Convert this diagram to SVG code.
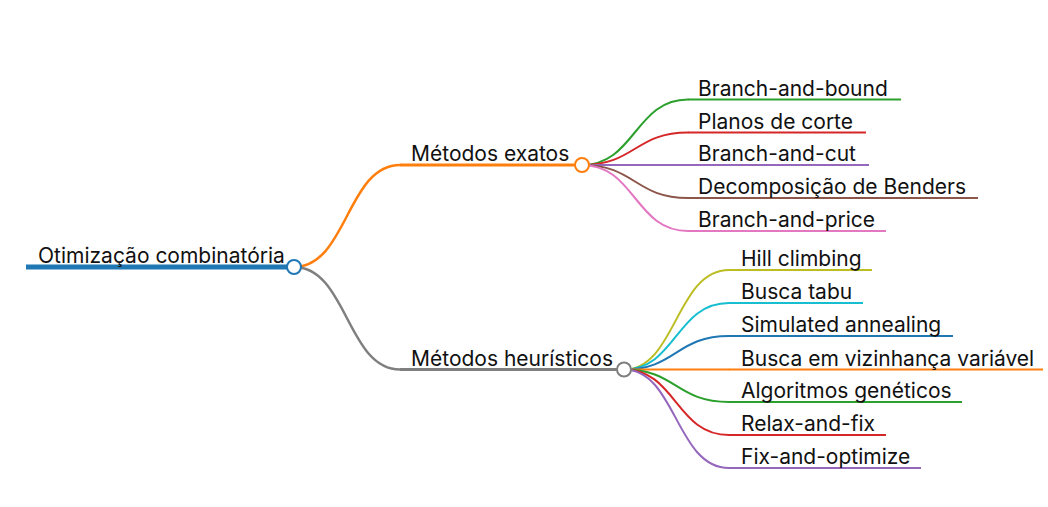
<svg xmlns="http://www.w3.org/2000/svg" width="1048" height="507" viewBox="0 0 1048 507">
<style>
text{font-family:Inter,"Noto Sans","Liberation Sans",sans-serif;font-size:21px;fill:#111}
.l{fill:none;stroke-linecap:round}
.c{fill:#fff;stroke-width:2}
</style>
<rect width="1048" height="507" fill="#fff"/>
<g id="connectors" class="links">
<path class="l" d="M294,267 C347,267 347,165 400,165" stroke="#ff7f0e" stroke-width="2.5"/>
<path class="l" d="M294,267 C347,267 347,369.5 400,369.5" stroke="#7f7f7f" stroke-width="2.5"/>
<path class="l" d="M582,165 C635,165 635,99.5 688,99.5" stroke="#2ca02c" stroke-width="2"/>
<path class="l" d="M582,165 C635,165 635,132.5 688,132.5" stroke="#d62728" stroke-width="2"/>
<path class="l" d="M582,165 C635,165 635,165 688,165" stroke="#9467bd" stroke-width="2"/>
<path class="l" d="M582,165 C635,165 635,198 688,198" stroke="#8c564b" stroke-width="2"/>
<path class="l" d="M582,165 C635,165 635,231 688,231" stroke="#e377c2" stroke-width="2"/>
<path class="l" d="M624,369.5 C676,369.5 676,270 729,270" stroke="#bcbd22" stroke-width="2"/>
<path class="l" d="M624,369.5 C676,369.5 676,303 729,303" stroke="#17becf" stroke-width="2"/>
<path class="l" d="M624,369.5 C676,369.5 676,336 729,336" stroke="#1f77b4" stroke-width="2"/>
<path class="l" d="M624,369.5 C676,369.5 676,369.5 729,369.5" stroke="#ff7f0e" stroke-width="2"/>
<path class="l" d="M624,369.5 C676,369.5 676,402 729,402" stroke="#2ca02c" stroke-width="2"/>
<path class="l" d="M624,369.5 C676,369.5 676,435 729,435" stroke="#d62728" stroke-width="2"/>
<path class="l" d="M624,369.5 C676,369.5 676,468 729,468" stroke="#9467bd" stroke-width="2"/>
</g>
<g id="root">
<line x1="26" y1="267" x2="294" y2="267" stroke="#1f77b4" stroke-width="5"/>
<circle class="c" cx="294" cy="267" r="7" stroke="#1f77b4"/>
<text x="38" y="263">Otimização combinatória</text>
</g>
<g id="exatos">
<line x1="400" y1="165" x2="582" y2="165" stroke="#ff7f0e" stroke-width="3"/>
<circle class="c" cx="582" cy="165" r="7" stroke="#ff7f0e"/>
<text x="411" y="161">Métodos exatos</text>
</g>
<g id="heuristicos">
<line x1="400" y1="369.5" x2="624" y2="369.5" stroke="#7f7f7f" stroke-width="3"/>
<circle class="c" cx="624" cy="369.5" r="7" stroke="#7f7f7f"/>
<text x="411" y="365.5">Métodos heurísticos</text>
</g>
<g id="bb"><line x1="688" y1="99.5" x2="901" y2="99.5" stroke="#2ca02c" stroke-width="2"/><text x="698" y="95.5">Branch-and-bound</text></g>
<g id="pc"><line x1="688" y1="132.5" x2="866" y2="132.5" stroke="#d62728" stroke-width="2"/><text x="698" y="128.5">Planos de corte</text></g>
<g id="bc"><line x1="688" y1="165" x2="869" y2="165" stroke="#9467bd" stroke-width="2"/><text x="698" y="161">Branch-and-cut</text></g>
<g id="db"><line x1="688" y1="198" x2="978" y2="198" stroke="#8c564b" stroke-width="2"/><text x="698" y="194">Decomposição de Benders</text></g>
<g id="bp"><line x1="688" y1="231" x2="886" y2="231" stroke="#e377c2" stroke-width="2"/><text x="698" y="227">Branch-and-price</text></g>
<g id="hc"><line x1="729" y1="270" x2="872" y2="270" stroke="#bcbd22" stroke-width="2"/><text x="741" y="266">Hill climbing</text></g>
<g id="bt"><line x1="729" y1="303" x2="863" y2="303" stroke="#17becf" stroke-width="2"/><text x="741" y="299">Busca tabu</text></g>
<g id="sa"><line x1="729" y1="336" x2="953" y2="336" stroke="#1f77b4" stroke-width="2"/><text x="741" y="332">Simulated annealing</text></g>
<g id="bvv"><line x1="729" y1="369.5" x2="1043" y2="369.5" stroke="#ff7f0e" stroke-width="2"/><text x="741" y="365.5">Busca em vizinhança variável</text></g>
<g id="ag"><line x1="729" y1="402" x2="962" y2="402" stroke="#2ca02c" stroke-width="2"/><text x="741" y="398">Algoritmos genéticos</text></g>
<g id="rf"><line x1="729" y1="435" x2="886" y2="435" stroke="#d62728" stroke-width="2"/><text x="741" y="431">Relax-and-fix</text></g>
<g id="fo"><line x1="729" y1="468" x2="921" y2="468" stroke="#9467bd" stroke-width="2"/><text x="741" y="464">Fix-and-optimize</text></g>
</svg>
